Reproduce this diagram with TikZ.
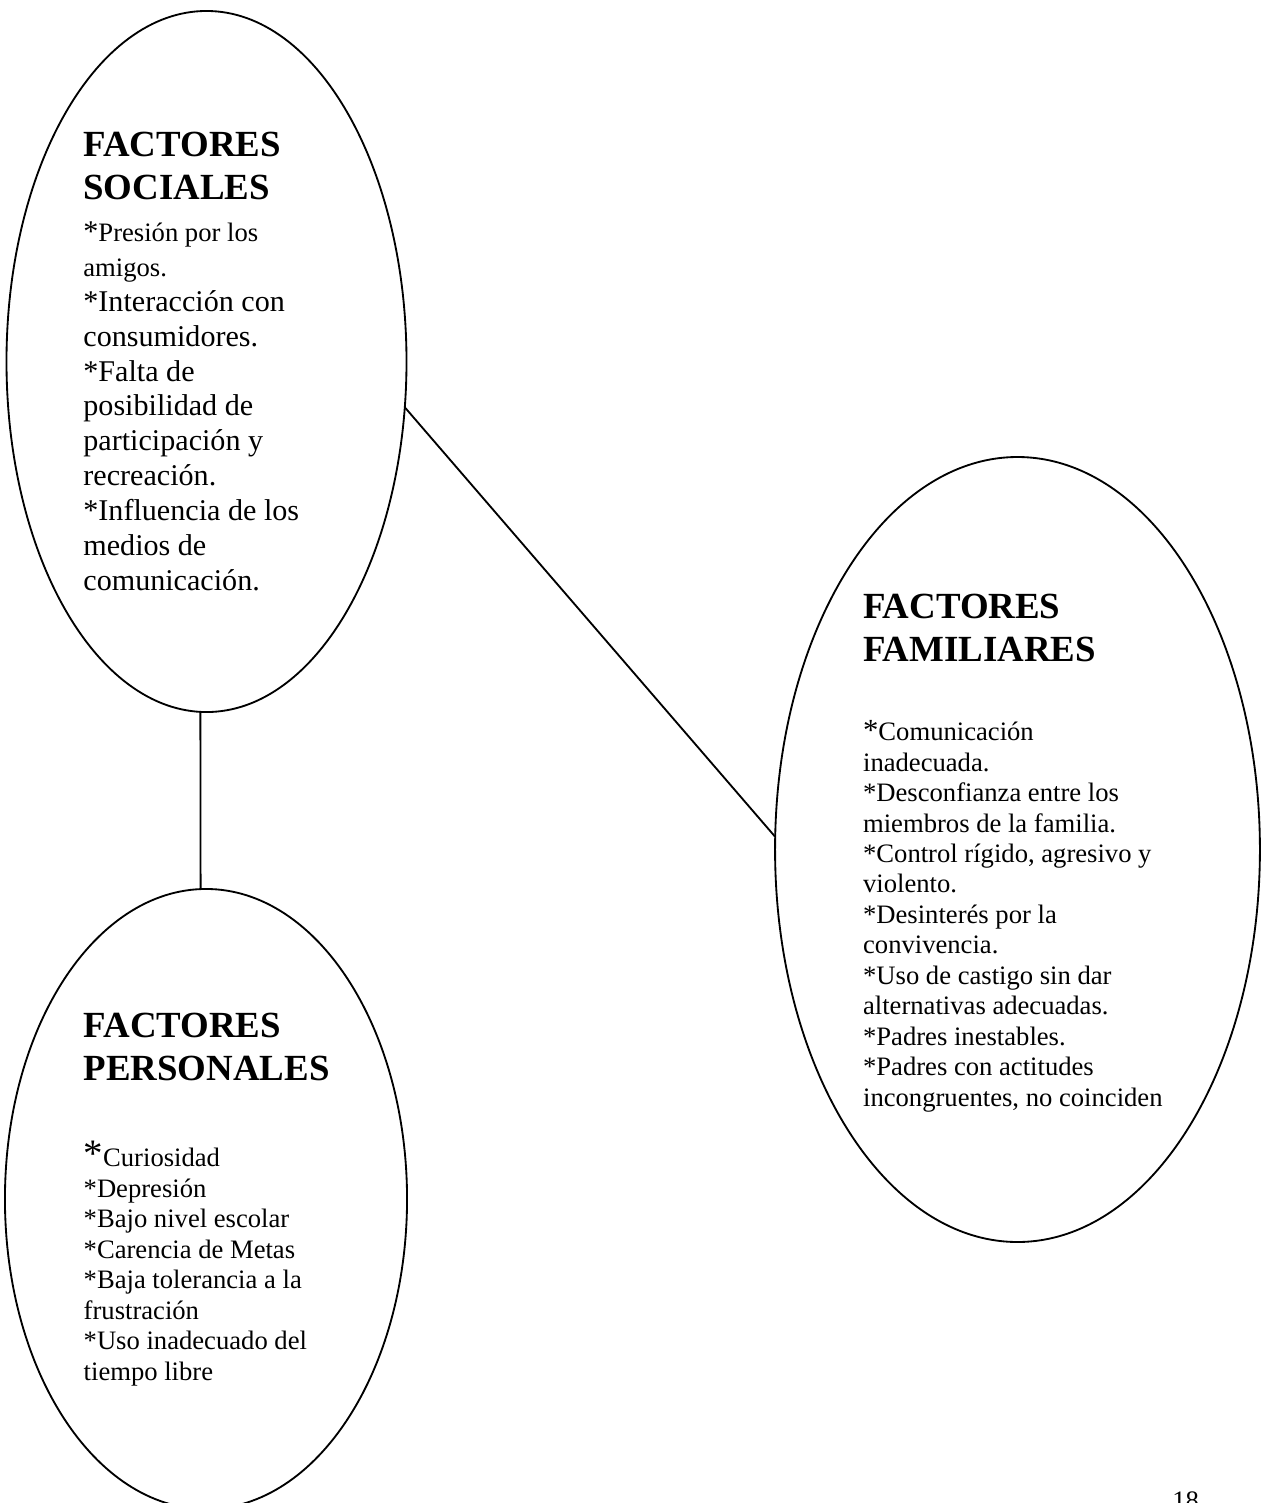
\documentclass[tikz,border=0pt]{standalone}
\usepackage{fontspec}
\setmainfont{Liberation Serif}
\usetikzlibrary{shapes.geometric}

\begin{document}
\begin{tikzpicture}[x=0.1716mm,y=-0.1716mm,
    elipse/.style={draw,ellipse,inner sep=0pt,outer sep=0pt,line width=0.9pt},
    titulo/.style={anchor=base west,align=left,inner sep=0pt,font=\fontsize{18}{20.9}\selectfont\bfseries},
    lista/.style={anchor=base west,align=left,inner sep=0pt,font=\fontsize{13}{14.86}\selectfont}]
     \useasboundingbox (0,0) rectangle (1262,1503);
     % elipses
     \node[elipse,minimum width=68.64mm,minimum height=120.3mm] (soc) at (206.5,361.5) {};
     \node[elipse,minimum width=83.2mm,minimum height=134.7mm] (fam) at (1017.5,849.5) {};
     \node[elipse,minimum width=69mm,minimum height=106.4mm] (pers) at (206,1199) {};
     % uniones
     \draw[line width=0.9pt] (soc.-91.2) -- (pers.91.3);
     \draw[line width=0.9pt] (soc.-13.5) -- (fam.177.9);
     % sociales (base = ultima linea)
     \node[titulo] (socT) at (83,199.5) {FACTORES\\SOCIALES};
     \node[lista,font=\fontsize{14.7}{17}\selectfont] (socL) at (83,590)
      {*{\fontsize{13}{15}\selectfont Presión por los}\\
       {\fontsize{13}{15}\selectfont amigos.}\\
       *Interacción con\\ consumidores.\\ *Falta de\\ posibilidad de\\
       participación y\\ recreación.\\ *Influencia de los\\ medios de\\ comunicación.};
     % familiares
     \node[titulo] (famT) at (862.7,661) {FACTORES\\FAMILIARES};
     \node[lista] (famL) at (862.7,1106)
      {{\fontsize{15}{15}\selectfont *}Comunicación\\ inadecuada.\\
       *Desconfianza entre los\\ miembros de la familia.\\
       *Control rígido, agresivo y\\ violento.\\ *Desinterés por la\\ convivencia.\\
       *Uso de castigo sin dar\\ alternativas adecuadas.\\ *Padres inestables.\\
       *Padres con actitudes\\ incongruentes, no coinciden};
     % personales
     \node[titulo] (persT) at (83.3,1080) {FACTORES\\PERSONALES};
     \node[lista] (persL) at (83.3,1380)
      {{\fontsize{19}{15}\selectfont *}Curiosidad\\ *Depresión\\ *Bajo nivel escolar\\
       *Carencia de Metas\\ *Baja tolerancia a la\\ frustración\\
       *Uso inadecuado del\\ tiempo libre};
     % pagina
     \node[lista] (pag) at (1172,1509.6) {18};
    \end{tikzpicture}
\end{document}
